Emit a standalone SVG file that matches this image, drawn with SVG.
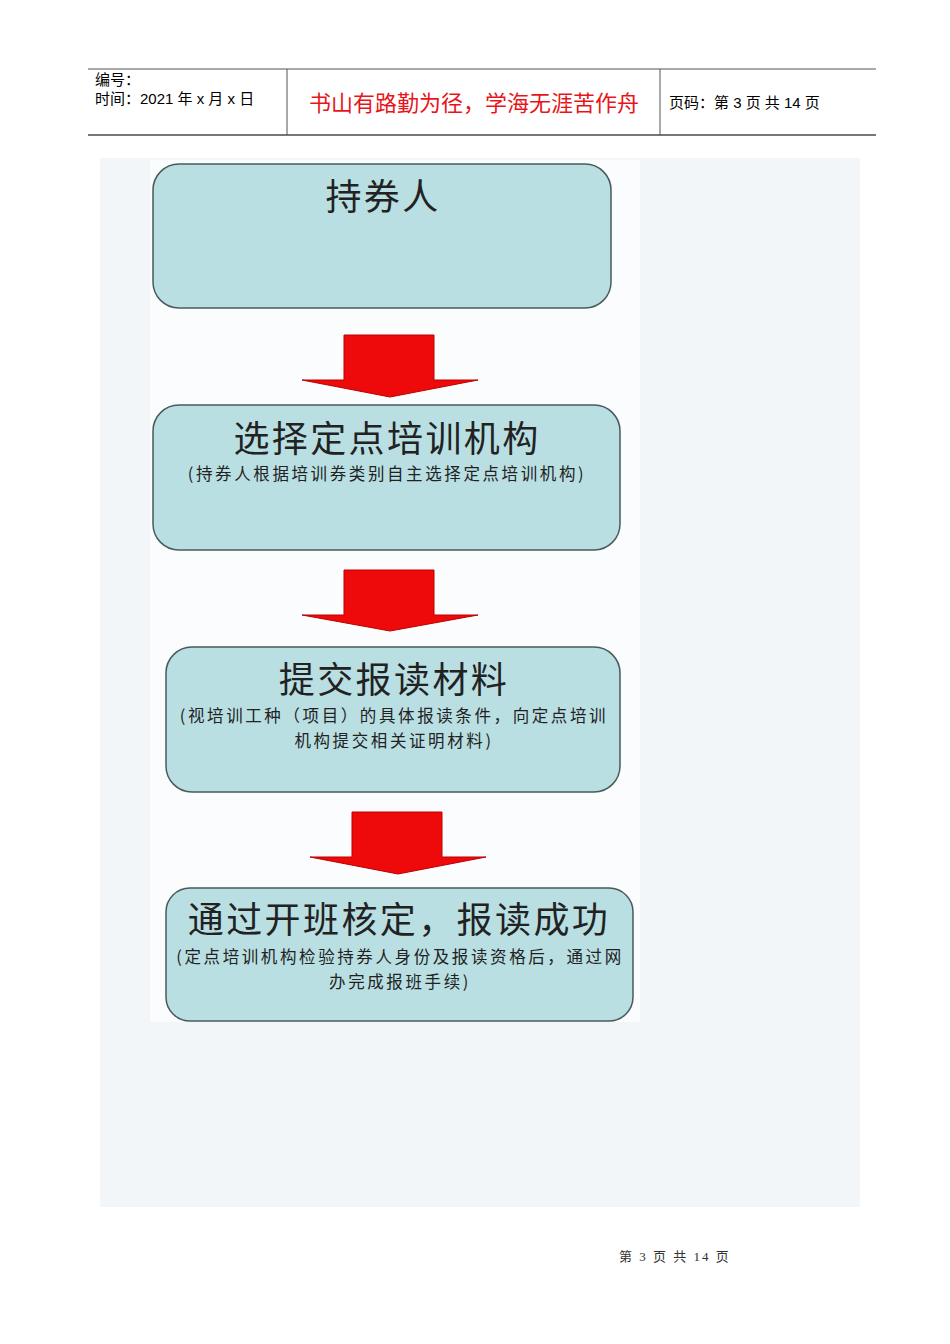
<svg xmlns="http://www.w3.org/2000/svg" width="950" height="1344" viewBox="0 0 950 1344">
<style>
.hd{font-family:"Liberation Sans","Noto Sans CJK SC",sans-serif;font-size:15px;fill:#000}
.box{fill:#b9dfe2;stroke:#4a5a5c;stroke-width:1.5}
.t{font-family:"Noto Sans CJK SC",sans-serif;font-size:36px;fill:#222;text-anchor:middle;letter-spacing:2.4px}
.s{font-family:"Noto Sans CJK SC",sans-serif;font-size:16.5px;fill:#222;text-anchor:middle;letter-spacing:2.6px}
.ar{fill:#ee0a0a;stroke:#b00;stroke-width:1}
</style>
<rect width="950" height="1344" fill="#fff"/>
<g id="header">
<line x1="88" y1="69" x2="876" y2="69" stroke="#555" stroke-width="1.2"/>
<line x1="88" y1="135" x2="876" y2="135" stroke="#777" stroke-width="2"/>
<line x1="287" y1="69" x2="287" y2="135" stroke="#555"/>
<line x1="660" y1="69" x2="660" y2="135" stroke="#555"/>
<text class="hd" x="95" y="85">编号：</text>
<text class="hd" x="95" y="104">时间：2021 年 x 月 x 日</text>
<text x="474" y="111" font-family="Noto Sans CJK SC,sans-serif" font-size="22" fill="#e8141a" text-anchor="middle">书山有路勤为径，学海无涯苦作舟</text>
<text class="hd" x="669" y="108">页码：第 3 页  共 14 页</text>
</g>
<rect x="100" y="158" width="760" height="1049" fill="#f3f6f9"/>
<rect x="150" y="160" width="490" height="862" fill="#fbfcfd"/>
<g id="n1"><rect class="box" x="153" y="164" width="458" height="144" rx="26"/>
<text class="t" x="383" y="210">持券人</text></g>
<g id="n2"><rect class="box" x="153" y="405" width="467" height="145" rx="26"/>
<text class="t" x="387" y="452">选择定点培训机构</text>
<text class="s" x="387" y="480">(持券人根据培训券类别自主选择定点培训机构)</text></g>
<g id="n3"><rect class="box" x="166" y="647" width="454" height="145" rx="26"/>
<text class="t" x="394" y="693">提交报读材料</text>
<text class="s" x="394" y="722">(视培训工种（项目）的具体报读条件，向定点培训</text>
<text class="s" x="394" y="747">机构提交相关证明材料)</text></g>
<g id="n4"><rect class="box" x="166" y="888" width="467" height="133" rx="24"/>
<text class="t" x="399" y="933">通过开班核定，报读成功</text>
<text class="s" x="400" y="963">(定点培训机构检验持券人身份及报读资格后，通过网</text>
<text class="s" x="400" y="988">办完成报班手续)</text></g>
<g id="connectors">
<polygon class="ar" points="344,335 434,335 434,380 478,380 390,397 302,380 344,380"/>
<polygon class="ar" points="344,570 434,570 434,615 478,615 390,631 302,615 344,615"/>
<polygon class="ar" points="352,812 442,812 442,857 486,857 398,874 310,857 352,857"/>
</g>
<text x="675" y="1261" font-family="Liberation Serif,Noto Sans CJK SC,serif" font-size="13" fill="#333" text-anchor="middle" letter-spacing="2">第 3 页 共 14 页</text>
</svg>
